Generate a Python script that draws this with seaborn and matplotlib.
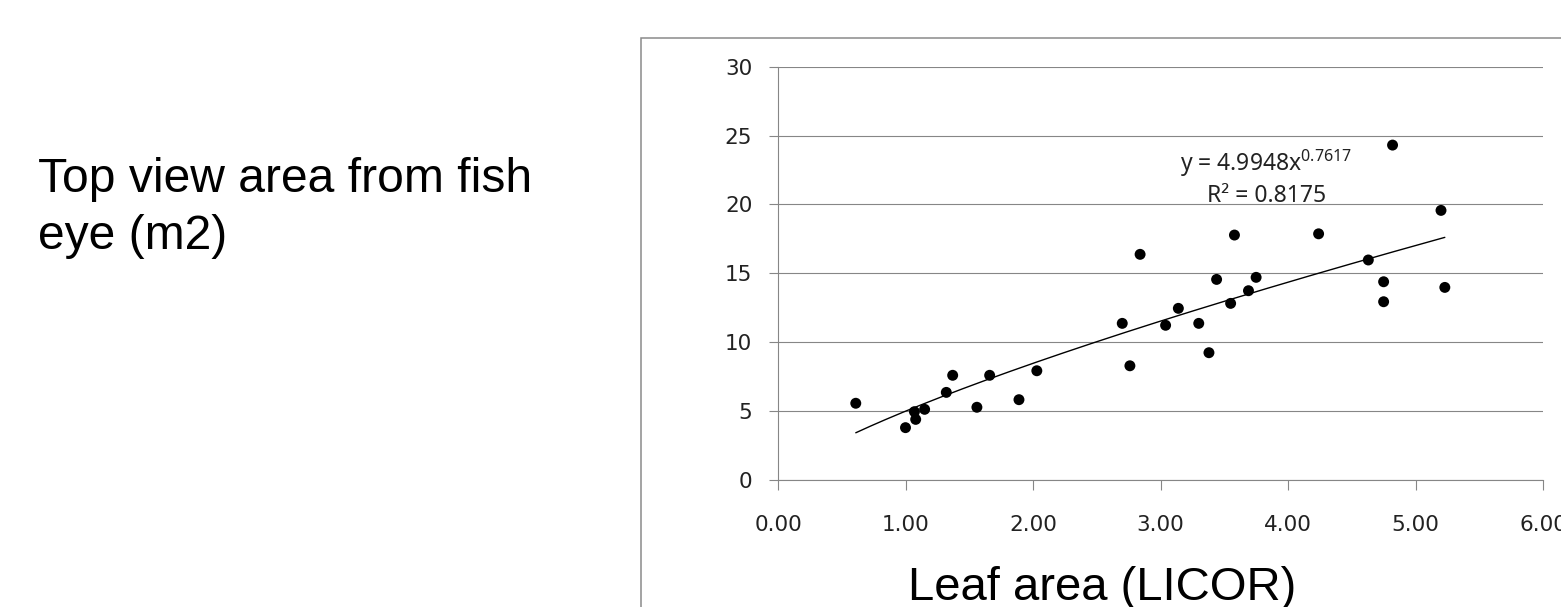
import numpy as np
import pandas as pd
import matplotlib
matplotlib.use("Agg")
import matplotlib.pyplot as plt
from matplotlib.patches import Rectangle
import seaborn as sns

# Leaf area measured with the LICOR meter vs. top view area from fish-eye photos
leaf_area = [0.61, 1.00, 1.08, 1.07, 1.15, 1.32, 1.37, 1.56, 1.66, 1.89,
             2.03, 2.70, 2.76, 2.84, 3.04, 3.14, 3.30, 3.38, 3.44, 3.55,
             3.58, 3.69, 3.75, 4.24, 4.63, 4.75, 4.75, 4.82, 5.20, 5.23]
top_view_area = [5.57, 3.80, 4.40, 4.96, 5.13, 6.36, 7.60, 5.28, 7.60, 5.83,
                 7.93, 11.37, 8.29, 16.38, 11.23, 12.46, 11.37, 9.24, 14.56, 12.82,
                 17.78, 13.74, 14.71, 17.87, 15.97, 14.39, 12.94, 24.31, 19.57, 13.98]

# Power trendline y = a * x^b
coef_a = 4.9948
coef_b = 0.7617
r_squared = 0.8175

x_ticks = [0, 1, 2, 3, 4, 5, 6]
y_ticks = [0, 5, 10, 15, 20, 25, 30]

sns.set_style("white")
plt.rcParams["font.family"] = ["DejaVu Sans"]

GRAY = "#868686"
TXT = "#222222"

df = pd.DataFrame({"leaf": leaf_area, "top": top_view_area})
fit_x = np.linspace(min(leaf_area), max(leaf_area), 200)
fit = pd.DataFrame({"leaf": fit_x, "top": coef_a * fit_x ** coef_b})

W, H = 1561, 607
fig = plt.figure(figsize=(W / 100, H / 100), dpi=100)
fig.patch.set_facecolor("white")
ax = fig.add_axes([778 / W, 127 / H, 765 / W, 413.3 / H])

# chart-area border
fig.add_artist(Rectangle((641 / W, -0.2), 1.0, (H - 38) / H + 0.2,
                         transform=fig.transFigure, fill=False,
                         edgecolor="#8a8a8a", lw=1.1))

sns.lineplot(data=fit, x="leaf", y="top", ax=ax, color="black", lw=1.0, zorder=3)
sns.scatterplot(data=df, x="leaf", y="top", ax=ax, color="black", s=62,
                edgecolor="none", zorder=4)

ax.set_xlim(0, 6)
ax.set_ylim(0, 30)
ax.set_xticks(x_ticks)
ax.set_yticks(y_ticks)
ax.set_xticklabels([f"{v:.2f}" for v in x_ticks])
ax.set_yticklabels([str(v) for v in y_ticks])

ax.grid(axis="y", color=GRAY, lw=0.8)
ax.grid(axis="x", visible=False)
ax.set_axisbelow(True)
for side in ("top", "right"):
    ax.spines[side].set_visible(False)
for side in ("left", "bottom"):
    ax.spines[side].set_color(GRAY)
    ax.spines[side].set_linewidth(0.8)

ax.tick_params(axis="y", direction="out", length=6.5, width=0.8, color=GRAY,
               pad=12, labelsize=15.5, labelcolor=TXT, left=True)
ax.tick_params(axis="x", direction="out", length=7, width=0.8, color=GRAY,
               pad=18, labelsize=15.5, labelcolor=TXT, bottom=True)

lab_family = ["Liberation Sans", "DejaVu Sans"]
ax.set_xlabel("Leaf area (LICOR)", family=lab_family, size=34, color="black")
ax.xaxis.set_label_coords((1102.5 - 778) / 765, (480 - 600) / 413.3)
ax.xaxis.label.set_verticalalignment("baseline")

ax.set_ylabel("Top view area from fish\neye (m2)", rotation=0, ha="left",
              va="baseline", linespacing=1.34, family=lab_family, size=34.6,
              color="black")
ax.yaxis.set_label_coords((38 - 778) / 765, (480 - 237) / 413.3)

eq_font = dict(family=["Noto Sans", "DejaVu Sans"], size=16.5, color=TXT)
ax.text(3.83, 22.45, f"y = {coef_a}x" + r"$\mathregular{^{" + f"{coef_b}" + r"}}$",
        ha="center", va="baseline", **eq_font)
ax.text(3.83, 20.2, f"R² = {r_squared}", ha="center", va="baseline", **eq_font)

fig.savefig("out.png", dpi=100, facecolor="white")
